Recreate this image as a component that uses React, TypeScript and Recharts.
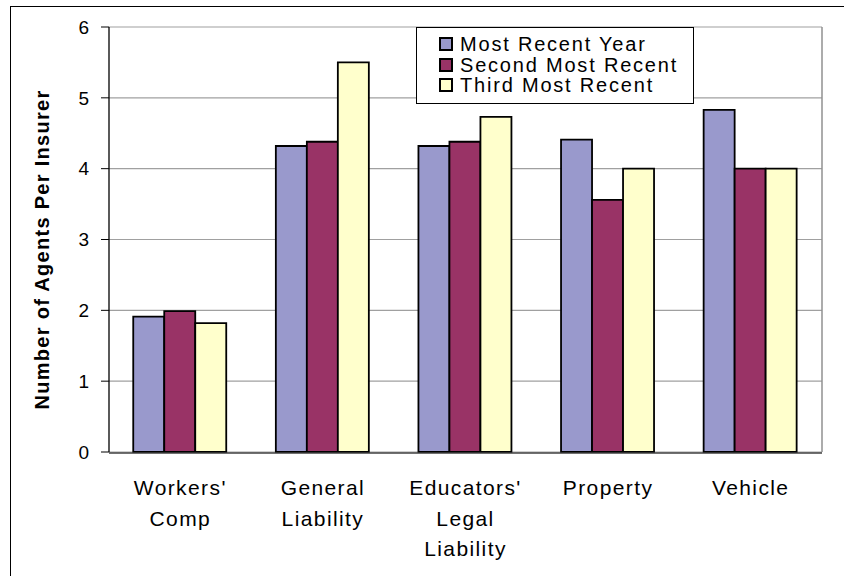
import React from 'react';
import { BarChart, Bar, XAxis, YAxis, CartesianGrid, Legend } from 'recharts';

// Categories of coverage (line breaks mark wrapped label lines)
const categories = [
  "Workers'\nComp",
  'General\nLiability',
  "Educators'\nLegal\nLiability",
  'Property',
  'Vehicle',
];

// Average number of agents per insurer, by year
const mostRecentYear = [1.91, 4.32, 4.32, 4.41, 4.83];
const secondMostRecent = [1.99, 4.38, 4.38, 3.56, 4.0];
const thirdMostRecent = [1.82, 5.5, 4.73, 4.0, 4.0];

const seriesNames = ['Most Recent Year', 'Second Most Recent', 'Third Most Recent'];
const seriesKeys = ['mostRecent', 'second', 'third'];
const seriesColors = ['#9999CC', '#993366', '#FFFFCC'];

const yTicks = [0, 1, 2, 3, 4, 5, 6];
const categoryEdges = [0, 1, 2, 3, 4, 5];

const yTitle = 'Number of Agents Per Insurer';

const FONT = '"Liberation Sans", Arial, Helvetica, sans-serif';

const data = categories.map((name, i) => ({
  name,
  mostRecent: mostRecentYear[i],
  second: secondMostRecent[i],
  third: thirdMostRecent[i],
}));

const CategoryTick = (props: any) => {
  const { x, y, payload } = props;
  const lines = String(payload.value).split('\n');
  return (
    <text
      x={x}
      y={y}
      textAnchor="middle"
      fontSize={21}
      letterSpacing={1.4}
      fill="#000"
      fontFamily={FONT}
    >
      {lines.map((line, i) => (
        <tspan key={i} x={x} dy={i === 0 ? 43 : 30.5}>
          {line}
        </tspan>
      ))}
    </text>
  );
};

const YTitle = (props: any) => {
  const vb = props.viewBox || { y: 27, height: 425 };
  const cx = 49;
  const cy = vb.y + vb.height / 2 + 10;
  return (
    <text
      x={cx}
      y={cy}
      transform={`rotate(-90, ${cx}, ${cy})`}
      textAnchor="middle"
      fontSize={20}
      fontWeight="bold"
      letterSpacing={1.3}
      fill="#000"
      fontFamily={FONT}
    >
      {yTitle}
    </text>
  );
};

const LegendBox = () => (
  <div
    style={{
      boxSizing: 'border-box',
      width: 278,
      height: 77,
      border: '1px solid #000',
      background: '#fff',
      paddingTop: 6,
      paddingLeft: 22,
      fontFamily: FONT,
      fontSize: 20,
      letterSpacing: 1.8,
      color: '#000',
    }}
  >
    {seriesNames.map((name, i) => (
      <div
        key={name}
        style={{ display: 'flex', alignItems: 'center', height: 20.5, whiteSpace: 'nowrap' }}
      >
        <span
          style={{
            display: 'inline-block',
            boxSizing: 'border-box',
            width: 14,
            height: 14,
            background: seriesColors[i],
            border: '2px solid #000',
            marginRight: 7,
          }}
        />
        <span style={{ lineHeight: '20px' }}>{name}</span>
      </div>
    ))}
  </div>
);

export default function App() {
  return (
    <div
      style={{
        position: 'absolute',
        left: 0,
        top: 0,
        width: 844,
        height: 576,
        overflow: 'hidden',
        background: '#fff',
      }}
    >
      <div
        style={{
          position: 'absolute',
          left: 10,
          top: 6,
          width: 900,
          height: 700,
          border: '1px solid #000',
        }}
      />
      <div style={{ position: 'absolute', left: 0, top: 0 }}>
        <BarChart
          width={844}
          height={576}
          data={data}
          margin={{ top: 27, right: 21, left: 0, bottom: 122 }}
          barCategoryGap="17%"
          barGap={0}
        >
          <CartesianGrid
            xAxisId="cat"
            yAxisId="val"
            vertical={false}
            stroke="#A0A0A0"
            strokeWidth={1.2}
          />
          <XAxis
            xAxisId="edges"
            type="number"
            domain={[0, 5]}
            ticks={categoryEdges}
            allowDataOverflow
            height={1}
            tick={false}
            tickSize={7}
            axisLine={{ stroke: '#404040', strokeWidth: 1.5 }}
            tickLine={{ stroke: '#404040', strokeWidth: 1.3 }}
          />
          <XAxis
            xAxisId="cat"
            dataKey="name"
            height={1}
            axisLine={false}
            tickLine={false}
            tickSize={0}
            tickMargin={0}
            interval={0}
            tick={<CategoryTick />}
          />
          <YAxis
            yAxisId="val"
            width={109}
            domain={[0, 6]}
            ticks={yTicks}
            interval={0}
            tickSize={8}
            tickMargin={12}
            axisLine={{ stroke: '#000', strokeWidth: 1.3 }}
            tickLine={{ stroke: '#000', strokeWidth: 1 }}
            tick={{ fontSize: 19, fill: '#000', fontFamily: FONT }}
            label={<YTitle />}
          />
          <YAxis
            yAxisId="frame"
            orientation="right"
            width={1}
            domain={[0, 6]}
            tick={false}
            tickLine={false}
            axisLine={{ stroke: '#909090', strokeWidth: 1.5 }}
          />
          <Legend
            layout="vertical"
            align="center"
            verticalAlign="middle"
            content={<LegendBox />}
            wrapperStyle={{ position: 'absolute', left: 416, top: 27, width: 278, height: 77 }}
          />
          {seriesKeys.map((key, i) => (
            <Bar
              key={key}
              xAxisId="cat"
              yAxisId="val"
              dataKey={key}
              name={seriesNames[i]}
              fill={seriesColors[i]}
              stroke="#000"
              strokeWidth={1.8}
              isAnimationActive={false}
            />
          ))}
        </BarChart>
      </div>
    </div>
  );
}
